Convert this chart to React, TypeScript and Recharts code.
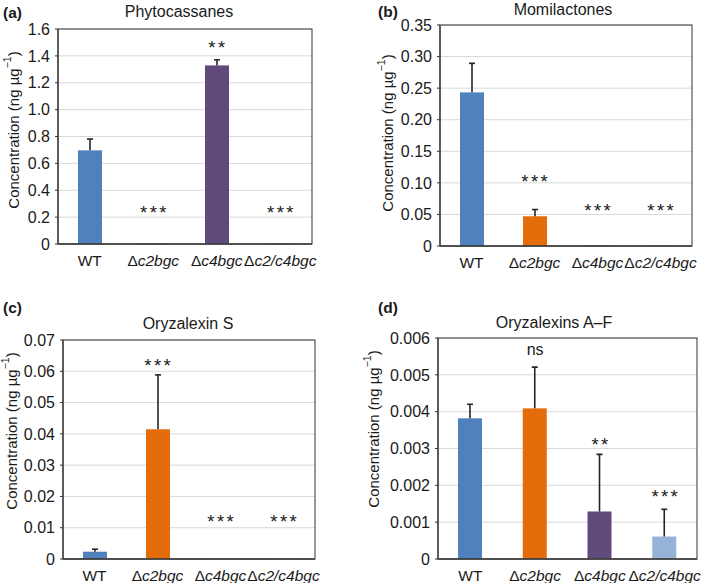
import { ComposedChart, Bar, Cell, XAxis, YAxis, CartesianGrid, Scatter } from 'recharts';

const categories = ['WT', 'c2bgc', 'c4bgc', 'c2/c4bgc'];
const COLORS = ['#4f81bd', '#e46c0a', '#604a7b', '#95b3d7'];

// (a) Phytocassanes
const phytoValues = [0.697, 0.003, 1.329, 0.002];
const phytoErrors = [0.084, 0, 0.042, 0];
const phytoMarks = ['', '***', '**', '***'];
const phytoMarkY = [0, 0.268, 1.496, 0.268];
const phytoTicks = [0, 0.2, 0.4, 0.6, 0.8, 1.0, 1.2, 1.4, 1.6];

// (b) Momilactones
const momiValues = [0.2433, 0.0471, 0.0004, 0.0004];
const momiErrors = [0.046, 0.0106, 0, 0];
const momiMarks = ['', '***', '***', '***'];
const momiMarkY = [0, 0.1094, 0.0645, 0.0645];
const momiTicks = [0, 0.05, 0.1, 0.15, 0.2, 0.25, 0.3, 0.35];

// (c) Oryzalexin S
const oxsValues = [0.00233, 0.04146, 0.0001, 0.0001];
const oxsErrors = [0.0008, 0.0174, 0, 0];
const oxsMarks = ['', '***', '***', '***'];
const oxsMarkY = [0, 0.0633, 0.0135, 0.0135];
const oxsTicks = [0, 0.01, 0.02, 0.03, 0.04, 0.05, 0.06, 0.07];

// (d) Oryzalexins A-F
const oxaValues = [0.00382, 0.00409, 0.00129, 0.00061];
const oxaErrors = [0.00038, 0.00112, 0.00155, 0.00074];
const oxaMarks = ['', 'ns', '**', '***'];
const oxaMarkY = [0, 0.00567, 0.00323, 0.00183];
const oxaTicks = [0, 0.001, 0.002, 0.003, 0.004, 0.005, 0.006];

const FONT = '"Liberation Sans", Arial, sans-serif';
const INK = '#1a1a1a';

function buildRows(values: number[], errors: number[], marks: string[], markY: number[]) {
  return categories.map((name, i) => ({
    name,
    value: values[i],
    err: errors[i],
    mark: marks[i],
    markY: markY[i],
  }));
}

const XTick = ({ x, y, payload }: any) => {
  const name = payload.value as string;
  return (
    <text x={x} y={y + 19.5} textAnchor="middle" fontSize={15.5} fontFamily={FONT} fill={INK}>
      {name === 'WT' ? 'WT' : (
        <>
          <tspan>Δ</tspan>
          <tspan fontStyle="italic">{name}</tspan>
        </>
      )}
    </text>
  );
};

// bar + upper-only error whisker, scaled from the bar's own pixel height
const BarWithError = (props: any) => {
  const { x, y, width, height, fill, payload } = props;
  const pxPerUnit = payload.value > 0 ? height / payload.value : 0;
  const cx = x + width / 2;
  const top = y - payload.err * pxPerUnit;
  return (
    <g>
      <rect x={x} y={y} width={width} height={Math.max(height, 0.6)} fill={fill} />
      {payload.err > 0 && (
        <g stroke="#262626" strokeWidth={1.6}>
          <line x1={cx} y1={y} x2={cx} y2={top} />
          <line x1={cx - 3} y1={top} x2={cx + 3} y2={top} />
        </g>
      )}
    </g>
  );
};

const MarkShape = (props: any) => {
  const { cx, cy, payload } = props;
  if (!payload || !payload.mark) return <g />;
  const isNs = payload.mark === 'ns';
  return (
    <text
      x={cx + (isNs ? 0 : 1.2)}
      y={cy}
      dy={isNs ? '0.3em' : '0.62em'}
      textAnchor="middle"
      fontSize={isNs ? 16 : 18.5}
      letterSpacing={isNs ? 0 : 2.4}
      fontFamily={FONT}
      fill={INK}
    >
      {payload.mark}
    </text>
  );
};

type PanelProps = {
  left: number; top: number; width: number; height: number;
  plot: { l: number; t: number; r: number; b: number };
  letter: string; letterPos: [number, number];
  title: string; titlePos: [number, number];
  ylabelPos: [number, number];
  rows: any[]; ticks: number[]; digits: number;
};

function Panel(p: PanelProps) {
  const max = p.ticks[p.ticks.length - 1];
  const fmt = (v: number) => (v === 0 ? '0' : v.toFixed(p.digits));
  return (
    <div style={{ position: 'absolute', left: p.left, top: p.top, width: p.width, height: p.height }}>
      <ComposedChart
        width={p.width}
        height={p.height}
        data={p.rows}
        margin={{ top: p.plot.t, right: p.width - p.plot.r, bottom: 0, left: 0 }}
      >
        <CartesianGrid horizontal vertical={false} stroke="#d9d9d9" />
        <XAxis
          dataKey="name"
          type="category"
          height={p.height - p.plot.b}
          tick={<XTick />}
          tickLine={false}
          tickSize={0}
          axisLine={{ stroke: '#333', strokeWidth: 1.3 }}
          interval={0}
        />
        <YAxis
          type="number"
          domain={[0, max]}
          ticks={p.ticks}
          tickFormatter={fmt}
          width={p.plot.l}
          tickSize={3}
          tickMargin={5}
          tick={{ fontSize: 16, fill: INK, fontFamily: FONT }}
          tickLine={{ stroke: '#333' }}
          axisLine={{ stroke: '#333', strokeWidth: 1.3 }}
          allowDataOverflow
        />
        <Bar dataKey="value" barSize={24} shape={<BarWithError />} isAnimationActive={false}>
          {p.rows.map((_, i) => <Cell key={i} fill={COLORS[i]} />)}
        </Bar>
        <Scatter dataKey="markY" shape={<MarkShape />} isAnimationActive={false} />
      </ComposedChart>
      <svg width={p.width} height={p.height} style={{ position: 'absolute', left: 0, top: 0, pointerEvents: 'none' }}>
        <rect
          x={p.plot.l} y={p.plot.t}
          width={p.plot.r - p.plot.l} height={p.plot.b - p.plot.t}
          fill="none" stroke="#444" strokeWidth={1.1}
        />
        <text x={p.letterPos[0]} y={p.letterPos[1]} fontSize={15.5} fontWeight="bold" fontFamily={FONT} fill={INK}>
          {p.letter}
        </text>
        <text x={p.titlePos[0]} y={p.titlePos[1]} textAnchor="middle" fontSize={16} fontFamily={FONT} fill={INK}>
          {p.title}
        </text>
        <text
          x={p.ylabelPos[0]}
          y={p.ylabelPos[1]}
          transform={`rotate(-90 ${p.ylabelPos[0]} ${p.ylabelPos[1]})`}
          textAnchor="middle"
          dominantBaseline="central"
          fontSize={15}
          fontFamily={FONT}
          fill={INK}
        >
          Concentration (ng µg<tspan dy={-6} fontSize={10.5}>−1</tspan><tspan dy={6}>)</tspan>
        </text>
      </svg>
    </div>
  );
}

export default function App() {
  return (
    <div style={{ position: 'fixed', left: 0, top: 0, width: 709, height: 583, background: '#fff' }}>
      <Panel
        left={0} top={0} width={354} height={290}
        plot={{ l: 58, t: 29, r: 312, b: 244 }}
        letter="(a)" letterPos={[3, 18]}
        title="Phytocassanes" titlePos={[179, 17]}
        ylabelPos={[13, 130]}
        rows={buildRows(phytoValues, phytoErrors, phytoMarks, phytoMarkY)}
        ticks={phytoTicks} digits={1}
      />
      <Panel
        left={354} top={0} width={355} height={290}
        plot={{ l: 86, t: 25, r: 338, b: 246 }}
        letter="(b)" letterPos={[24, 17]}
        title="Momilactones" titlePos={[209, 15]}
        ylabelPos={[33, 133]}
        rows={buildRows(momiValues, momiErrors, momiMarks, momiMarkY)}
        ticks={momiTicks} digits={2}
      />
      <Panel
        left={0} top={290} width={354} height={293}
        plot={{ l: 63, t: 50, r: 315, b: 269 }}
        letter="(c)" letterPos={[3, 23]}
        title="Oryzalexin S" titlePos={[188, 39]}
        ylabelPos={[11, 141]}
        rows={buildRows(oxsValues, oxsErrors, oxsMarks, oxsMarkY)}
        ticks={oxsTicks} digits={2}
      />
      <Panel
        left={354} top={290} width={355} height={293}
        plot={{ l: 84, t: 48, r: 343, b: 269 }}
        letter="(d)" letterPos={[24, 23]}
        title="Oryzalexins A–F" titlePos={[200, 38]}
        ylabelPos={[19, 139]}
        rows={buildRows(oxaValues, oxaErrors, oxaMarks, oxaMarkY)}
        ticks={oxaTicks} digits={3}
      />
    </div>
  );
}
